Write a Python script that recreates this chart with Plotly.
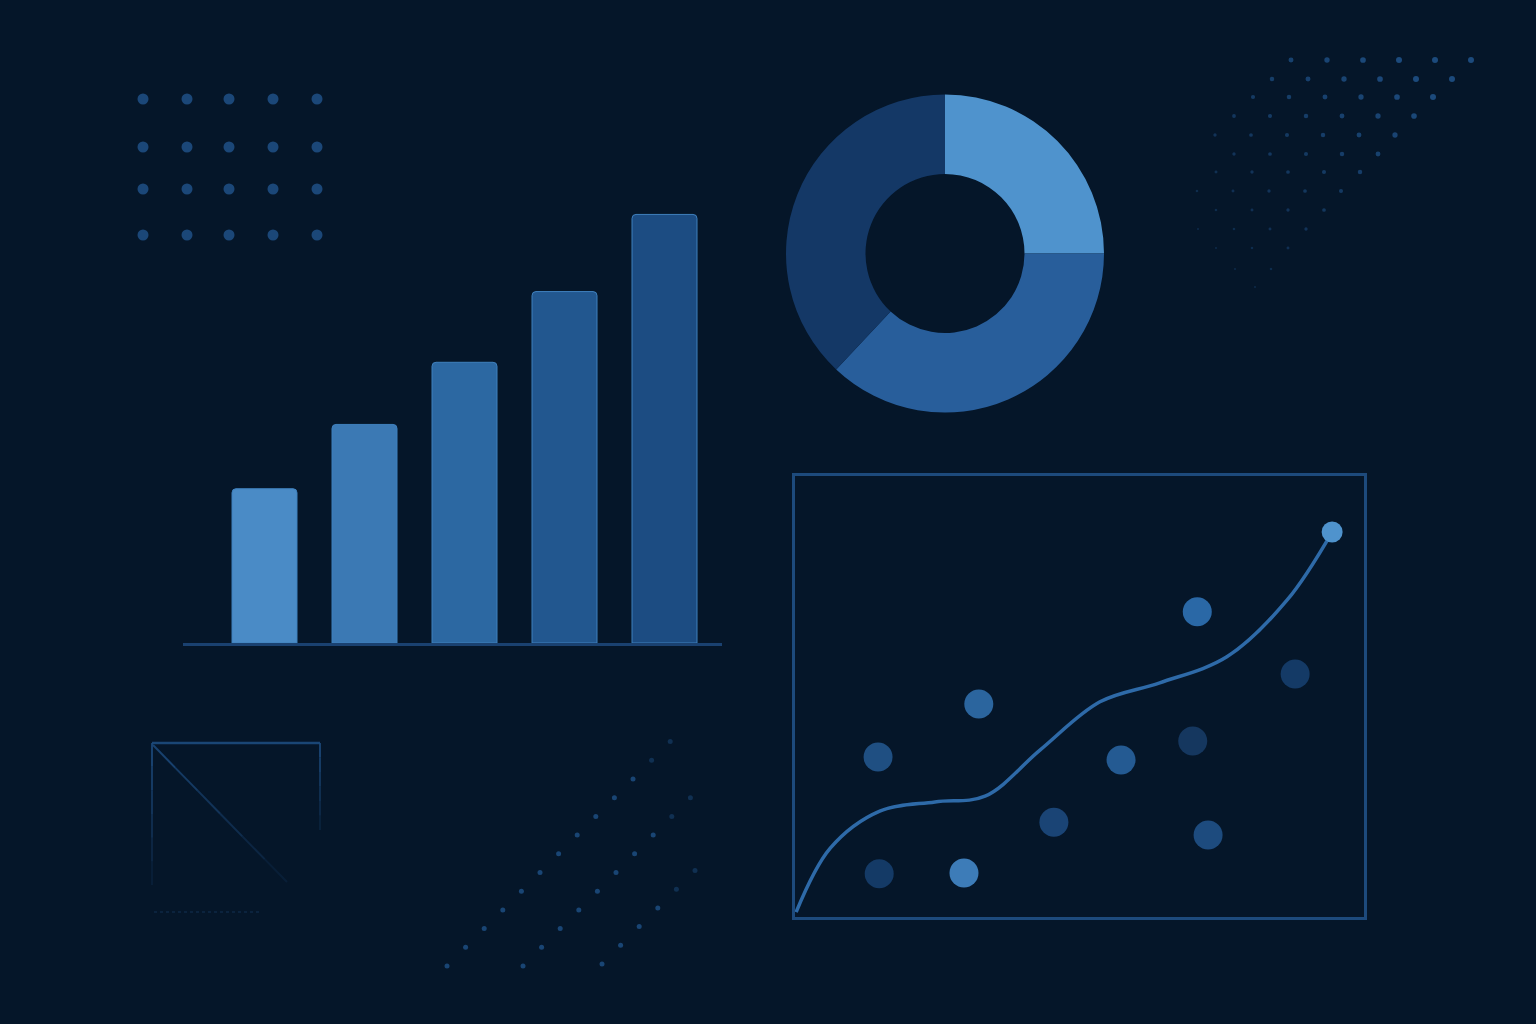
import plotly.graph_objects as go
import numpy as np

BG = "#051629"
DECO = "rgb(28,74,124)"

# ---- bar chart ----
bar_categories = ["Q1", "Q2", "Q3", "Q4", "Q5"]
bar_values = [3.6, 5.1, 6.55, 8.2, 10.0]
bar_colors = ["#4a8bc6", "#3b79b4", "#2c68a2", "#22578f", "#1c4c82"]

# ---- donut ----
donut_labels = ["Segment A", "Segment B", "Segment C"]
donut_values = [25, 37, 38]
donut_colors = ["#4f93cd", "#285e9b", "#143866"]

# ---- trend line + scatter ----
trend_x = [0.02, 0.62, 1.49, 2.46, 3.34, 4.31, 5.36, 6.41, 7.59, 8.65, 9.44]
trend_y = [0.11, 1.56, 2.40, 2.61, 2.74, 3.79, 4.88, 5.31, 5.90, 7.19, 8.73]
scatter_x = [1.46, 3.23, 1.48, 2.97, 4.55, 5.73, 6.99, 7.07, 8.79, 7.26]
scatter_y = [3.63, 4.83, 0.98, 1.00, 2.15, 3.56, 3.99, 6.92, 5.51, 1.86]
scatter_colors = ["#1f4f82", "#2b659e", "#143a66", "#3d7cb8", "#1a4475",
                  "#245a92", "#15375f", "#2a68a6", "#143a66", "#1d4b7e"]

# ---- decorative elements (page pixel coordinates) ----
grid_cols_x = [143, 187, 229, 273, 317]
grid_rows_y = [99, 147, 189, 235]

lattice_row_y = [60, 79, 97, 116, 135, 154, 172, 191, 210, 229, 248, 269, 287]
lattice_row_x0 = [1291, 1272, 1253, 1234, 1215, 1234, 1216, 1197, 1216, 1198, 1216, 1235, 1255]
lattice_row_n = [6, 6, 6, 6, 6, 5, 5, 5, 4, 4, 3, 2, 1]
lattice_step = 36.0

diag_start_x = [447, 523, 602]
diag_start_y = [966, 966, 964]
diag_n = [13, 10, 6]
diag_step = (18.6, -18.7)

sq_left, sq_right, sq_top = 152, 320, 743
sq_left_end, sq_right_end = 885, 830
sq_diag_end = (287, 882)
sq_bottom_y, sq_bottom_x = 912, (154, 262)

fig = go.Figure()

# dot grid
gx, gy = np.meshgrid(grid_cols_x, grid_rows_y)
fig.add_trace(go.Scatter(x=gx.ravel(), y=gy.ravel(), mode="markers",
                         marker=dict(size=11, color=DECO, opacity=0.95),
                         xaxis="x", yaxis="y", showlegend=False))

# lattice top right
lx, ly, ls, lo = [], [], [], []
for yv, x0, n in zip(lattice_row_y, lattice_row_x0, lattice_row_n):
    for k in range(n):
        xv = x0 + k * lattice_step
        s = (xv - 1190) + (300 - yv)
        t = min(max((s - 60) / 380, 0), 1)
        lx.append(xv); ly.append(yv)
        ls.append(2 + 4 * t); lo.append(0.35 + 0.65 * t)
fig.add_trace(go.Scatter(x=lx, y=ly, mode="markers",
                         marker=dict(size=ls, color=DECO, opacity=lo, line=dict(width=0)),
                         xaxis="x", yaxis="y", showlegend=False))

# diagonal dots bottom middle
dx_, dy_, do_ = [], [], []
for x0, y0, n in zip(diag_start_x, diag_start_y, diag_n):
    for k in range(n):
        dx_.append(x0 + k * diag_step[0]); dy_.append(y0 + k * diag_step[1])
        do_.append(0.9 if k < n - 2 else 0.5)
fig.add_trace(go.Scatter(x=dx_, y=dy_, mode="markers",
                         marker=dict(size=5, color=DECO, opacity=do_, line=dict(width=0)),
                         xaxis="x", yaxis="y", showlegend=False))

# faded square
def fade_line(x0, y0, x1, y1, o0, o1, w=2, parts=6):
    for i in range(parts):
        a, b = i / parts, (i + 1) / parts
        op = o0 + (o1 - o0) * (i + 0.5) / parts
        fig.add_trace(go.Scatter(x=[x0 + (x1 - x0) * a, x0 + (x1 - x0) * b],
                                 y=[y0 + (y1 - y0) * a, y0 + (y1 - y0) * b],
                                 mode="lines", line=dict(color=DECO, width=w),
                                 opacity=op, xaxis="x", yaxis="y", showlegend=False))

fade_line(sq_left, sq_top, sq_right, sq_top, 0.95, 0.9, w=2.5, parts=1)
fade_line(sq_right, sq_top, sq_right, sq_right_end, 0.9, 0.15)
fade_line(sq_left, sq_top, sq_left, sq_left_end, 0.9, 0.1)
fade_line(sq_left + 1, sq_top + 2, sq_diag_end[0], sq_diag_end[1], 0.9, 0.1)
fig.add_trace(go.Scatter(x=list(sq_bottom_x), y=[sq_bottom_y, sq_bottom_y], mode="lines",
                         line=dict(color=DECO, width=1.5, dash="dot"), opacity=0.35,
                         xaxis="x", yaxis="y", showlegend=False))

# bars
fig.add_trace(go.Bar(x=bar_categories, y=bar_values, width=0.65,
                     marker=dict(color=bar_colors, line=dict(width=1, color="#3f80bd")),
                     xaxis="x2", yaxis="y2", showlegend=False))

# donut
fig.add_trace(go.Pie(labels=donut_labels, values=donut_values, hole=0.5,
                     sort=False, direction="clockwise", rotation=0,
                     marker=dict(colors=donut_colors, line=dict(width=0)),
                     textinfo="none", showlegend=False,
                     domain=dict(x=[786 / 1536, 1104 / 1536], y=[(1024 - 414) / 1024, (1024 - 93) / 1024])))

# trend + scatter
fig.add_trace(go.Scatter(x=scatter_x, y=scatter_y, mode="markers",
                         marker=dict(size=29, color=scatter_colors, line=dict(width=0)),
                         xaxis="x3", yaxis="y3", showlegend=False))
fig.add_trace(go.Scatter(x=trend_x, y=trend_y, mode="lines",
                         line=dict(color="#2e6aa8", width=3.5, shape="spline", smoothing=1.0),
                         xaxis="x3", yaxis="y3", showlegend=False))
fig.add_trace(go.Scatter(x=[trend_x[-1]], y=[trend_y[-1]], mode="markers",
                         marker=dict(size=21, color="#4f93cd"),
                         xaxis="x3", yaxis="y3", showlegend=False, cliponaxis=False))

hidden = dict(visible=False, showgrid=False, zeroline=False, fixedrange=True)
fig.update_layout(
    width=1536, height=1024,
    margin=dict(l=0, r=0, t=0, b=0),
    paper_bgcolor=BG, plot_bgcolor="rgba(0,0,0,0)",
    hovermode=False, showlegend=False,
    barcornerradius=4,
    xaxis=dict(domain=[0, 1], range=[0, 1536], **hidden),
    yaxis=dict(domain=[0, 1], range=[1024, 0], **hidden),
    xaxis2=dict(domain=[183 / 1536, 722 / 1536], range=[-0.815, 4.575], anchor="y2",
                type="category", showline=True, linecolor="#1a4170", linewidth=3,
                showticklabels=False, ticks="", showgrid=False, zeroline=False),
    yaxis2=dict(domain=[(1024 - 643) / 1024, (1024 - 193) / 1024], range=[0, 10.5], anchor="x2",
                visible=False, showgrid=False, zeroline=False),
    xaxis3=dict(domain=[795 / 1536, 1364 / 1536], range=[0, 10], anchor="y3",
                showline=True, mirror=True, linecolor="#1d4a7c", linewidth=3,
                showticklabels=False, ticks="", showgrid=False, zeroline=False),
    yaxis3=dict(domain=[(1024 - 917) / 1024, (1024 - 476) / 1024], range=[0, 10], anchor="x3",
                showline=True, mirror=True, linecolor="#1d4a7c", linewidth=3,
                showticklabels=False, ticks="", showgrid=False, zeroline=False),
)

fig.write_html("out.html", config={"displayModeBar": False},
               post_script="document.body.style.margin='0';document.body.style.overflow='hidden';")
